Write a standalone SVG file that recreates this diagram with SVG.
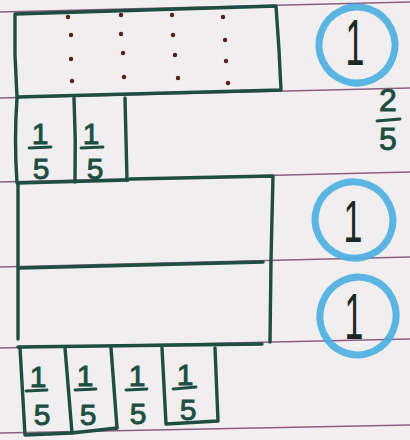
<svg xmlns="http://www.w3.org/2000/svg" width="410" height="440" viewBox="0 0 410 440">
<defs>
<style>
.paper{stroke:#8c5f80;stroke-width:1.4;fill:none}
.ink{stroke:#1d4e41;stroke-width:3.4;fill:none;stroke-linecap:round;stroke-linejoin:round}
.bar{stroke:#1d4e41;stroke-width:2.8;stroke-linecap:round}
.dot{fill:#5a1e14}
.num{font-family:"Liberation Sans",Arial,sans-serif;font-size:30px;fill:#1d4e41;stroke:#1d4e41;stroke-width:0.9;text-anchor:middle}
.big{font-family:"Liberation Sans",Arial,sans-serif;font-size:34px;fill:#1a2a22;text-anchor:middle}
.ring{stroke:#49aee0;stroke-width:7;fill:none;opacity:0.9}
</style>
</defs>
<rect width="410" height="440" fill="#f0eeee"/>
<g id="paper-lines">
<line class="paper" x1="0" y1="12" x2="410" y2="2"/>
<line class="paper" x1="0" y1="98" x2="410" y2="88"/>
<line class="paper" x1="0" y1="182" x2="410" y2="172"/>
<line class="paper" x1="0" y1="267" x2="410" y2="257"/>
<line class="paper" x1="0" y1="348" x2="410" y2="339"/>
<line class="paper" x1="0" y1="433" x2="410" y2="425"/>
</g>
<g id="whole-top">
<path class="ink" d="M15,14 L276,6 L279,50 L281,90 L17,97 L15,55 Z"/>
<g>
<circle class="dot" cx="68" cy="17" r="2.2"/><circle class="dot" cx="71" cy="35" r="2.2"/><circle class="dot" cx="71" cy="59" r="2.2"/><circle class="dot" cx="72" cy="81" r="2.2"/>
<circle class="dot" cx="121" cy="15" r="2.2"/><circle class="dot" cx="121" cy="34" r="2.2"/><circle class="dot" cx="123" cy="53" r="2.2"/><circle class="dot" cx="124" cy="77" r="2.2"/>
<circle class="dot" cx="172" cy="15" r="2.2"/><circle class="dot" cx="173" cy="35" r="2.2"/><circle class="dot" cx="175" cy="55" r="2.2"/><circle class="dot" cx="178" cy="78" r="2.2"/>
<circle class="dot" cx="223" cy="17" r="2.2"/><circle class="dot" cx="225" cy="40" r="2.2"/><circle class="dot" cx="226" cy="61" r="2.2"/><circle class="dot" cx="228" cy="83" r="2.2"/>
</g>
</g>
<g id="fifths-two">
<path class="ink" d="M17,98 Q14,140 17,183 L128,180"/>
<path class="ink" d="M74,98 Q76,140 75,182"/>
<path class="ink" d="M125,98 L127,180"/>
<text class="num" x="40" y="144">1</text><line class="bar" x1="29" y1="148" x2="51" y2="147"/><text class="num" x="41" y="179">5</text>
<text class="num" x="91" y="144">1</text><line class="bar" x1="81" y1="148" x2="103" y2="147"/><text class="num" x="95" y="179">5</text>
</g>
<g id="two-wholes">
<path class="ink" d="M130,179 L273,176 L271,260 L270,342"/>
<path class="ink" d="M18,183 L18,262 L18,339"/>
<path class="ink" d="M20,268 L263,262"/>
</g>
<g id="fifths-four">
<path class="ink" d="M18,347 L262,344"/>
<path class="ink" d="M20,348 L25,435 L72,433 L117,428"/>
<path class="ink" d="M65,348 L72,433"/>
<path class="ink" d="M111,348 L117,428"/>
<path class="ink" d="M162,348 L166,424 L218,421 L215,348"/>
<text class="num" x="38" y="387">1</text><line class="bar" x1="26" y1="391" x2="47" y2="390"/><text class="num" x="42" y="425">5</text>
<text class="num" x="85" y="386">1</text><line class="bar" x1="75" y1="390" x2="96" y2="389"/><text class="num" x="88" y="425">5</text>
<text class="num" x="137" y="386">1</text><line class="bar" x1="126" y1="390" x2="147" y2="389"/><text class="num" x="138" y="424">5</text>
<text class="num" x="185" y="385">1</text><line class="bar" x1="173" y1="389" x2="196" y2="387"/><text class="num" x="188" y="420">5</text>
</g>
<g id="label-two-fifths">
<text class="num" x="388" y="111" style="font-size:32px">2</text>
<line class="bar" x1="377" y1="121" x2="400" y2="119"/>
<text class="num" x="388" y="150" style="font-size:32px">5</text>
</g>
<g id="answer-1">
<ellipse class="ring" cx="357" cy="45" rx="38" ry="38" transform="rotate(20 357 45)"/>
<text class="big" transform="translate(355,65) scale(1,1.9)">1</text>
</g>
<g id="answer-2">
<ellipse class="ring" cx="354" cy="220" rx="39" ry="38" transform="rotate(20 354 220)"/>
<text class="big" transform="translate(353,242) scale(1,1.75)">1</text>
</g>
<g id="answer-3">
<ellipse class="ring" cx="358" cy="316" rx="38" ry="39" transform="rotate(20 358 316)"/>
<text class="big" transform="translate(354,339) scale(1,1.9)">1</text>
</g>
</svg>
